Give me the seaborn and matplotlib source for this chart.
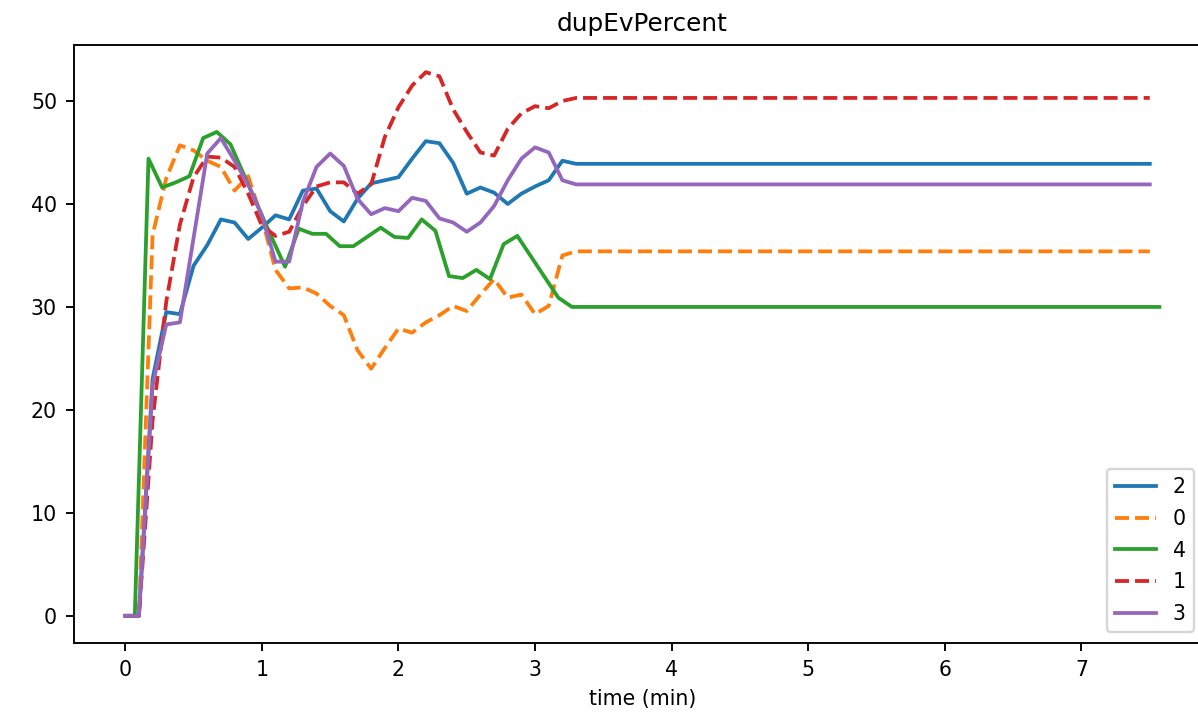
import numpy as np
import pandas as pd
import matplotlib
matplotlib.use("Agg")
import matplotlib.pyplot as plt
import seaborn as sns

# sample times in minutes (runs 2, 0, 1, 3 share one grid, run 4 is shifted)
time_grid = [0.0, 0.1, 0.2, 0.3, 0.4, 0.5, 0.6, 0.7, 0.8, 0.9, 1.0, 1.1, 1.2,
             1.3, 1.4, 1.5, 1.6, 1.7, 1.8, 1.9, 2.0, 2.1, 2.2, 2.3, 2.4, 2.5,
             2.6, 2.7, 2.8, 2.9, 3.0, 3.1, 3.2, 3.3, 7.5]
time_grid_4 = [0.0, 0.07, 0.17, 0.27, 0.37, 0.47, 0.57, 0.67, 0.77, 0.87, 0.97,
               1.07, 1.17, 1.27, 1.37, 1.47, 1.57, 1.67, 1.77, 1.87, 1.97, 2.07,
               2.17, 2.27, 2.37, 2.47, 2.57, 2.67, 2.77, 2.87, 2.97, 3.07, 3.17,
               3.27, 7.57]

run_2 = [0, 0, 23.0, 29.5, 29.3, 34.0, 36.0, 38.5, 38.2, 36.6, 37.7, 38.9, 38.5,
         41.3, 41.5, 39.3, 38.3, 40.5, 42.0, 42.3, 42.6, 44.4, 46.1, 45.9, 44.0,
         41.0, 41.6, 41.1, 40.0, 41.0, 41.7, 42.3, 44.2, 43.9, 43.9]
run_0 = [0, 0, 37.0, 42.5, 45.7, 45.2, 44.2, 43.6, 41.3, 42.7, 38.6, 33.6, 31.8,
         31.9, 31.3, 30.1, 29.2, 25.8, 24.0, 26.0, 27.9, 27.5, 28.5, 29.2, 30.1,
         29.6, 31.2, 32.7, 30.9, 31.2, 29.3, 30.1, 35.0, 35.4, 35.4]
run_4 = [0, 0, 44.4, 41.6, 42.1, 42.7, 46.4, 47.0, 45.8, 42.8, 39.8, 36.8, 33.9,
         37.6, 37.1, 37.1, 35.9, 35.9, 36.8, 37.7, 36.8, 36.7, 38.5, 37.4, 33.0,
         32.8, 33.6, 32.7, 36.1, 36.9, 34.9, 32.9, 30.9, 30.0, 30.0]
run_1 = [0, 0, 19.0, 30.5, 38.0, 42.6, 44.6, 44.5, 43.6, 41.0, 37.9, 36.9, 37.3,
         39.8, 41.7, 42.1, 42.1, 41.0, 41.9, 46.5, 49.4, 51.5, 52.8, 52.4, 49.2,
         47.0, 45.0, 44.7, 47.3, 48.8, 49.5, 49.3, 50.0, 50.3, 50.3]
run_3 = [0, 0, 22.4, 28.3, 28.5, 36.7, 44.9, 46.4, 44.2, 41.9, 38.9, 34.4, 34.4,
         40.2, 43.6, 44.9, 43.7, 40.5, 39.0, 39.6, 39.3, 40.6, 40.3, 38.6, 38.2,
         37.3, 38.2, 39.8, 42.3, 44.4, 45.5, 45.0, 42.3, 41.9, 41.9]

runs = ["2", "0", "4", "1", "3"]
dashed_runs = ["0", "1"]

frames = []
for name, t, v in [("2", time_grid, run_2), ("0", time_grid, run_0),
                   ("4", time_grid_4, run_4), ("1", time_grid, run_1),
                   ("3", time_grid, run_3)]:
    frames.append(pd.DataFrame({"time": t, "value": v, "run": name}))
df = pd.concat(frames, ignore_index=True)

plt.rcParams["font.size"] = 8.7
plt.rcParams["axes.titlesize"] = 10.5

dpi = 170
fig = plt.figure(figsize=(1198 / dpi, 719 / dpi), dpi=dpi)
ax = fig.add_axes([0.0614, 0.1057, 0.9495, 0.8317])

colors = sns.color_palette("tab10", 5)
for i, name in enumerate(runs):
    sub = df[df["run"] == name]
    sns.lineplot(data=sub, x="time", y="value", ax=ax, color=colors[i],
                 linestyle="--" if name in dashed_runs else "-",
                 linewidth=1.6, label=name, sort=False, estimator=None)

ax.set_title("dupEvPercent")
ax.set_xlabel("time (min)")
ax.set_ylabel("")
ax.legend(loc="lower right", bbox_to_anchor=(0.985, 0.018), borderaxespad=0,
          labelspacing=0.57)

fig.savefig("out.png", dpi=dpi)
